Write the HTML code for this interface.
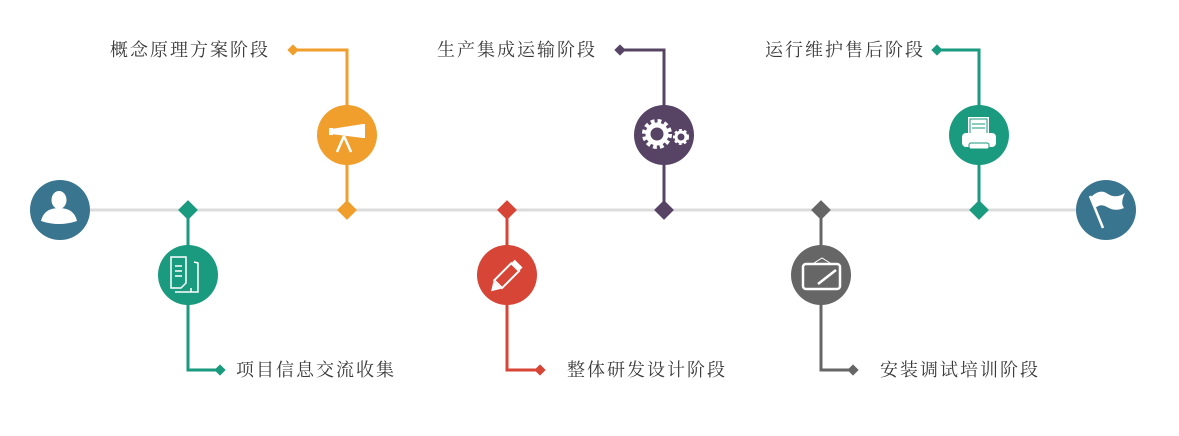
<!DOCTYPE html>
<html><head><meta charset="utf-8"><style>
html,body{margin:0;padding:0;background:#fff;}
svg{display:block}
text{font-family:"Noto Serif CJK SC","Liberation Serif",serif;font-size:18px;fill:#3a3a3a;letter-spacing:2px}
</style></head><body>
<svg width="1179" height="436" viewBox="0 0 1179 436" xmlns="http://www.w3.org/2000/svg">
<line x1="60" y1="210" x2="1106" y2="210" stroke="#dcdcdc" stroke-width="3"/>
<!-- start -->
<circle cx="60" cy="210" r="30" fill="#3a7590"/>
<ellipse cx="59" cy="200" rx="7.5" ry="9" fill="#fff"/>
<path d="M41 221 Q44 208 59 208 Q74 208 77 221 Q59 227 41 221Z" fill="#fff"/>
<!-- end -->
<circle cx="1106" cy="210" r="30" fill="#3a7590"/>
<line x1="1090" y1="196" x2="1103" y2="228" stroke="#fff" stroke-width="2.5"/>
<path d="M1091 197 Q1100 188 1108 194 Q1116 199 1125 193 Q1120 203 1124 208 Q1115 212 1107 207 Q1101 203 1095 208Z" fill="#fff"/>

<!-- 1 green down -->
<g fill="#1a9a7e">
<polyline points="188,210 188,370 220,370" fill="none" stroke="#1a9a7e" stroke-width="3"/>
<rect x="181" y="203" width="14" height="14" transform="rotate(45 188 210)"/>
<rect x="216" y="366" width="8" height="8" transform="rotate(45 220 370)"/>
<circle cx="188" cy="275" r="30"/>
</g>
<g fill="none" stroke="#fff" stroke-width="1.5">
<path d="M171 288 V257 H186 V283 L181 288Z"/><path d="M175 292 H198 V263 L194 262"/><path d="M191 288 V292"/>
<line x1="175" y1="266" x2="182" y2="266"/><line x1="175" y1="271" x2="182" y2="271"/><line x1="175" y1="276" x2="182" y2="276"/>
</g>
<text x="236" y="376">项目信息交流收集</text>

<!-- 2 orange up -->
<g fill="#f09e2c">
<polyline points="347,210 347,50 293,50" fill="none" stroke="#f09e2c" stroke-width="3"/>
<rect x="340" y="203" width="14" height="14" transform="rotate(45 347 210)"/>
<rect x="289" y="46" width="8" height="8" transform="rotate(45 293 50)"/>
<circle cx="347" cy="135" r="30"/>
</g>
<path d="M331 129 L363 124 L365 124 L365 138 L363 138 L331 134Z" fill="#fff"/>
<rect x="329" y="128" width="4" height="7" fill="#fff"/>
<path d="M344 136 L337 152 M344 136 L351 152" stroke="#fff" stroke-width="2.5" fill="none"/>
<text x="110" y="56">概念原理方案阶段</text>

<!-- 3 red down -->
<g fill="#d64536">
<polyline points="507,210 507,370 540,370" fill="none" stroke="#d64536" stroke-width="3"/>
<rect x="500" y="203" width="14" height="14" transform="rotate(45 507 210)"/>
<rect x="536" y="366" width="8" height="8" transform="rotate(45 540 370)"/>
<circle cx="507" cy="275" r="30"/>
</g>
<g transform="rotate(-45 507 276)">
<rect x="495" y="270" width="24" height="11" fill="none" stroke="#fff" stroke-width="2"/>
<rect x="519" y="270" width="5" height="11" fill="#fff"/>
<path d="M494 270 L485 275.5 L494 281Z" fill="#fff"/>
</g>
<text x="567" y="376">整体研发设计阶段</text>

<!-- 4 purple up -->
<g fill="#574465">
<polyline points="664,210 664,50 620,50" fill="none" stroke="#574465" stroke-width="3"/>
<rect x="657" y="203" width="14" height="14" transform="rotate(45 664 210)"/>
<rect x="616" y="46" width="8" height="8" transform="rotate(45 620 50)"/>
<circle cx="664" cy="135" r="30"/>
</g>
<circle cx="657" cy="134" r="12" fill="none" stroke="#fff" stroke-width="6" stroke-dasharray="3.5 2.8"/>
<circle cx="657" cy="134" r="9" fill="none" stroke="#fff" stroke-width="5"/>
<circle cx="681" cy="137" r="6" fill="none" stroke="#fff" stroke-width="4" stroke-dasharray="2.4 2"/>
<circle cx="681" cy="137" r="5" fill="none" stroke="#fff" stroke-width="3"/>
<text x="437" y="56">生产集成运输阶段</text>

<!-- 5 grey down -->
<g fill="#666">
<polyline points="821,210 821,370 853,370" fill="none" stroke="#666" stroke-width="3"/>
<rect x="814" y="203" width="14" height="14" transform="rotate(45 821 210)"/>
<rect x="849" y="366" width="8" height="8" transform="rotate(45 853 370)"/>
<circle cx="821" cy="275" r="30"/>
</g>
<rect x="803" y="264" width="37" height="25" rx="3" fill="none" stroke="#fff" stroke-width="2.5"/>
<path d="M814 263 L822 258 L830 263" fill="none" stroke="#fff" stroke-width="1"/>
<line x1="818" y1="284" x2="836" y2="270" stroke="#fff" stroke-width="2.5"/>
<text x="880" y="376">安装调试培训阶段</text>

<!-- 6 teal up -->
<g fill="#1a9a7e">
<polyline points="979,210 979,50 937,50" fill="none" stroke="#1a9a7e" stroke-width="3"/>
<rect x="972" y="203" width="14" height="14" transform="rotate(45 979 210)"/>
<rect x="933" y="46" width="8" height="8" transform="rotate(45 937 50)"/>
<circle cx="979" cy="135" r="30"/>
</g>
<rect x="968" y="117" width="21" height="19" fill="#fff"/>
<rect x="970" y="119" width="17" height="15" fill="none" stroke="#1a9a7e" stroke-width="1"/>
<line x1="972" y1="124" x2="985" y2="124" stroke="#1a9a7e"/><line x1="972" y1="128" x2="985" y2="128" stroke="#1a9a7e"/>
<rect x="962" y="133" width="34" height="14" rx="4" fill="#fff"/>
<rect x="969" y="143" width="20" height="6" rx="2" fill="#fff" stroke="#1a9a7e" stroke-width="1"/>
<text x="765" y="56">运行维护售后阶段</text>
</svg>
</body></html>
